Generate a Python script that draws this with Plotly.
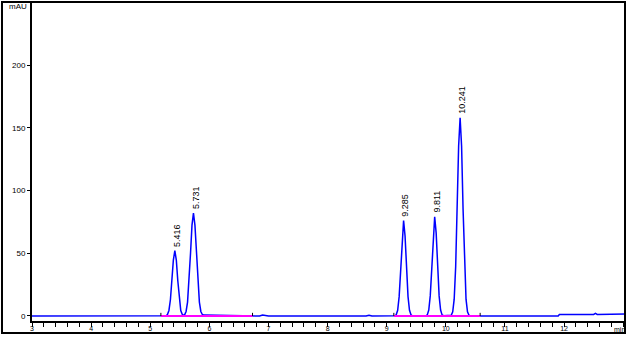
import plotly.graph_objects as go

# Chromatogram signal (time in min, absorbance in mAU)
time = [3.0, 5.20, 5.266, 5.291, 5.316, 5.341, 5.366, 5.391, 5.416, 5.441, 5.466, 5.491, 5.516, 5.541, 5.566,
        5.581, 5.606, 5.631, 5.656, 5.681, 5.706, 5.731, 5.756, 5.781, 5.806, 5.831, 5.856, 5.881, 5.91,
        6.10, 6.15, 6.85, 6.90, 6.95, 7.0, 8.65, 8.70, 8.75,
        9.135, 9.16, 9.185, 9.21, 9.235, 9.26, 9.285, 9.31, 9.335, 9.36, 9.385, 9.41, 9.435,
        9.661, 9.686, 9.711, 9.736, 9.761, 9.786, 9.811, 9.836, 9.861, 9.886, 9.911, 9.936, 9.961,
        10.066, 10.091, 10.116, 10.141, 10.166, 10.191, 10.216, 10.241, 10.266, 10.291, 10.316, 10.341,
        10.366, 10.391, 10.416, 10.6, 11.9, 11.92, 12.5, 12.53, 12.56, 13.03]
signal = [0, 0, 0.2, 1.1, 4.4, 12.9, 28.1, 44.6, 52, 44.6, 28.1, 12.9, 4.4, 1.3, 0.5,
          0.9, 3.6, 11.1, 26.6, 49.8, 72.4, 82, 72.4, 49.8, 26.6, 11.1, 3.6, 1.2, 0.7,
          0.6, 0.1, 0, 0.8, 0.3, 0, 0, 0.6, 0,
          0.1, 0.9, 4.5, 15.4, 37.4, 63.7, 76, 63.7, 37.4, 15.4, 4.5, 0.9, 0.1,
          0.1, 0.9, 4.7, 16.0, 38.9, 66.2, 79, 66.2, 38.9, 16.0, 4.7, 0.9, 0.2,
          0.1, 0.6, 3.3, 13.4, 39.3, 85.3, 135.4, 158, 135.4, 85.3, 39.3, 13.4,
          3.3, 0.6, 0.1, 0, 0, 1.2, 1.2, 2.0, 1.2, 1.5]

# Integration baselines (start, end) in min
base_start = [5.18, 9.12]
base_end = [6.73, 10.58]

# Peak labels
peak_rt = [5.416, 5.731, 9.285, 9.811, 10.241]
peak_h = [52, 82, 76, 79, 158]
peak_lbl = ["5.416", "5.731", "9.285", "9.811", "10.241"]

x_ticks = [3, 4, 5, 6, 7, 8, 9, 10, 11, 12]
y_ticks = [0, 50, 100, 150, 200]

FONT = "Liberation Sans, Arial"

fig = go.Figure()

fig.add_trace(go.Scatter(x=time, y=signal, mode="lines",
                         line=dict(color="#0000FF", width=1.5), hoverinfo="skip"))

bx, by = [], []
for s, e in zip(base_start, base_end):
    bx += [s, e, None]
    by += [0, 0, None]
fig.add_trace(go.Scatter(x=bx, y=by, mode="lines",
                         line=dict(color="#FF00FF", width=2), hoverinfo="skip"))

mx, my = [], []
for v in base_start + base_end:
    mx += [v, v, None]
    my += [0, 2.5, None]
fig.add_trace(go.Scatter(x=mx, y=my, mode="lines",
                         line=dict(color="#000000", width=1), hoverinfo="skip"))

for rt, h, lbl in zip(peak_rt, peak_h, peak_lbl):
    fig.add_annotation(x=rt, y=h, text=lbl, textangle=-90, showarrow=False,
                       xanchor="center", yanchor="bottom", yshift=2, xshift=2,
                       font=dict(family="Liberation Sans, Arial", size=9, color="#000000"))

fig.add_annotation(x=0, xref="paper", y=247, yref="y", text="mAU", showarrow=False,
                   xanchor="right", yanchor="middle", xshift=-3,
                   font=dict(family=FONT, size=8, color="#000000"))
fig.add_annotation(x=12.94, xref="x", y=0, yref="paper", text="min", showarrow=False,
                   xanchor="center", yanchor="middle", yshift=-8,
                   font=dict(family=FONT, size=7, color="#000000"))

# Outer frame
fig.add_shape(type="rect", xref="paper", yref="paper",
              x0=-0.0506, x1=1.0, y0=-0.0376, y1=1.0,
              line=dict(color="#000000", width=2), layer="above")

fig.update_layout(
    width=628, height=338,
    margin=dict(l=32, r=3, t=2, b=17, autoexpand=False),
    paper_bgcolor="white", plot_bgcolor="white",
    showlegend=False,
    xaxis=dict(range=[3, 13.03], tickvals=x_ticks, ticktext=[str(v) for v in x_ticks],
               automargin=False, ticklabelstandoff=-4,
               showgrid=False, zeroline=False, showline=True, linecolor="#000000", linewidth=2,
               ticks="outside", ticklen=4, tickcolor="#000000", tickwidth=1,
               minor=dict(dtick=0.2, tick0=3, ticks="outside", ticklen=4, tickcolor="#000000", showgrid=False),
               tickfont=dict(family=FONT, size=7, color="#000000")),
    yaxis=dict(range=[-4, 250.2], tickvals=y_ticks, ticktext=[str(v) for v in y_ticks],
               automargin=False,
               showgrid=False, zeroline=False, showline=True, linecolor="#000000", linewidth=2,
               ticks="outside", ticklen=3, tickcolor="#000000", tickwidth=1,
               tickfont=dict(family=FONT, size=8, color="#000000")),
)

fig.write_html("out.html")
